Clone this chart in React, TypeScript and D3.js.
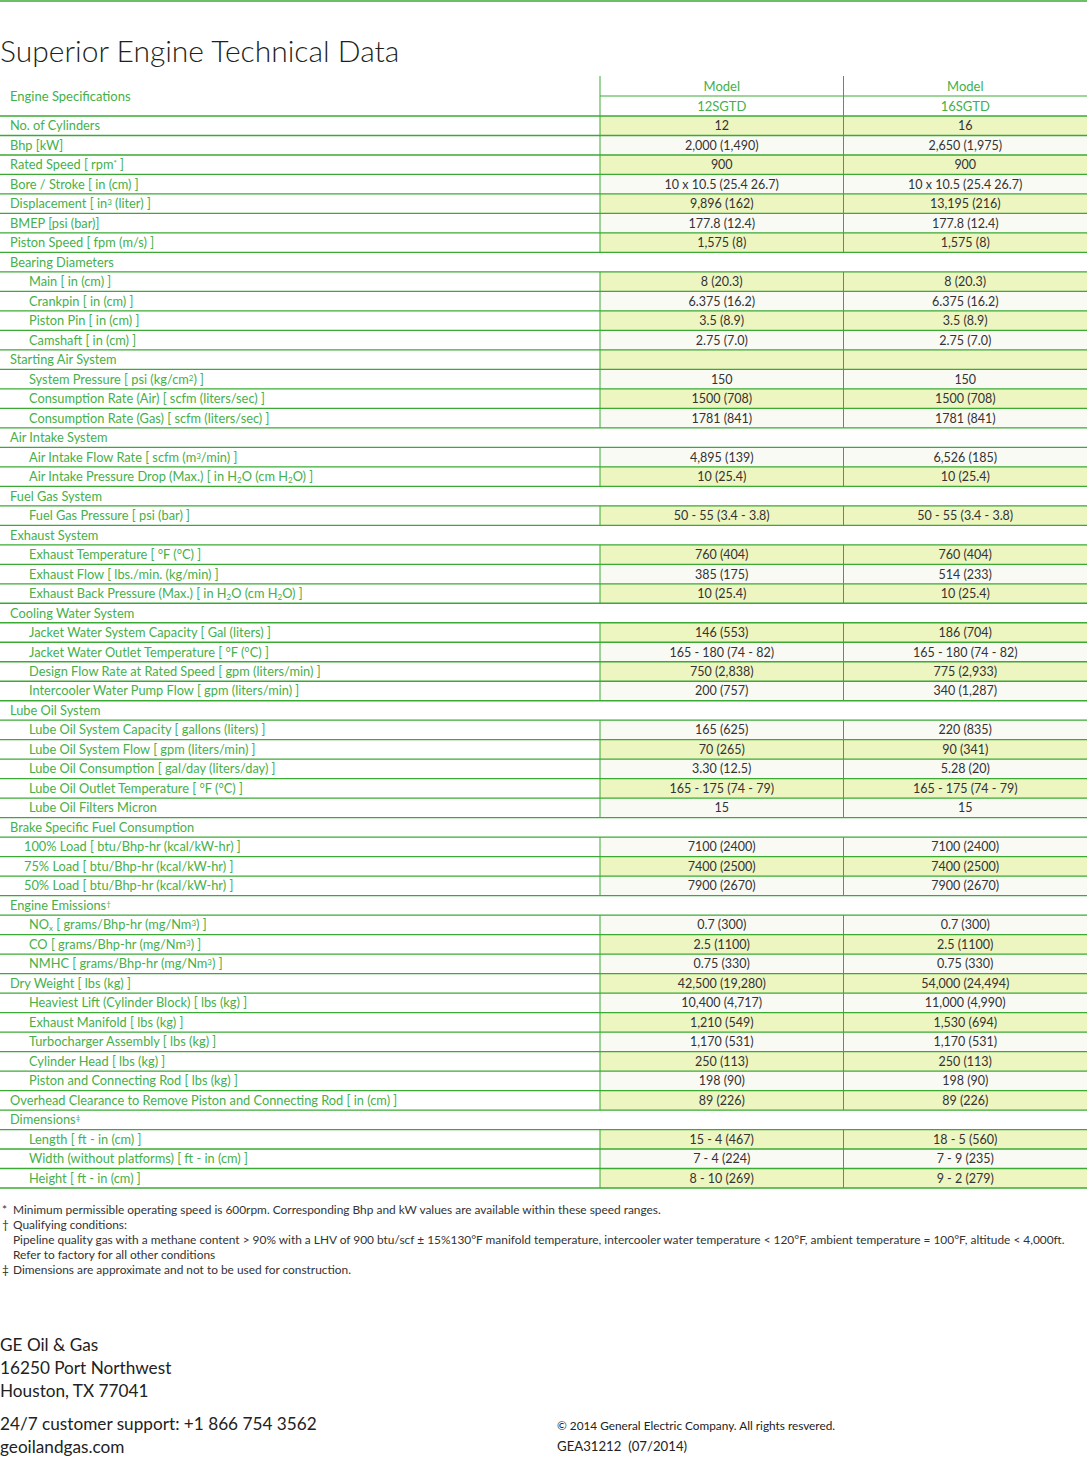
import React from "react";
import { scaleBand } from "d3";

// table content
const models = ["12SGTD", "16SGTD"];

// 0 = top level, 1 = sub item, 2 = fuel load item ; "s" marks a section row with no cells
const rowLabels = [
  "No. of Cylinders", "Bhp [kW]", "Rated Speed [ rpm^{*} ]", "Bore / Stroke [ in (cm) ]",
  "Displacement [ in^{3} (liter) ]", "BMEP [psi (bar)]", "Piston Speed [ fpm (m/s) ]",
  "Bearing Diameters", "Main [ in (cm) ]", "Crankpin [ in (cm) ]", "Piston Pin [ in (cm) ]",
  "Camshaft [ in (cm) ]", "Starting Air System", "System Pressure [ psi (kg/cm^{2}) ]",
  "Consumption Rate (Air) [ scfm (liters/sec) ]", "Consumption Rate (Gas) [ scfm (liters/sec) ]",
  "Air Intake System", "Air Intake Flow Rate [ scfm (m^{3}/min) ]",
  "Air Intake Pressure Drop (Max.) [ in H_{2}O (cm H_{2}O) ]", "Fuel Gas System",
  "Fuel Gas Pressure [ psi (bar) ]", "Exhaust System", "Exhaust Temperature [ °F (°C) ]",
  "Exhaust Flow [ lbs./min. (kg/min) ]", "Exhaust Back Pressure (Max.) [ in H_{2}O (cm H_{2}O) ]",
  "Cooling Water System", "Jacket Water System Capacity [ Gal (liters) ]",
  "Jacket Water Outlet Temperature [ °F (°C) ]", "Design Flow Rate at Rated Speed [ gpm (liters/min) ]",
  "Intercooler Water Pump Flow [ gpm (liters/min) ]", "Lube Oil System",
  "Lube Oil System Capacity [ gallons (liters) ]", "Lube Oil System Flow [ gpm (liters/min) ]",
  "Lube Oil Consumption [ gal/day (liters/day) ]", "Lube Oil Outlet Temperature [ °F (°C) ]",
  "Lube Oil Filters Micron", "Brake Specific Fuel Consumption",
  "100% Load [ btu/Bhp-hr (kcal/kW-hr) ]", "75% Load [ btu/Bhp-hr (kcal/kW-hr) ]",
  "50% Load [ btu/Bhp-hr (kcal/kW-hr) ]", "Engine Emissions^{†}",
  "NO_{x} [ grams/Bhp-hr (mg/Nm^{3}) ]", "CO [ grams/Bhp-hr (mg/Nm^{3}) ]",
  "NMHC [ grams/Bhp-hr (mg/Nm^{3}) ]", "Dry Weight [ lbs (kg) ]",
  "Heaviest Lift (Cylinder Block) [ lbs (kg) ]", "Exhaust Manifold [ lbs (kg) ]",
  "Turbocharger Assembly [ lbs (kg) ]", "Cylinder Head [ lbs (kg) ]",
  "Piston and Connecting Rod [ lbs (kg) ]",
  "Overhead Clearance to Remove Piston and Connecting Rod [ in (cm) ]", "Dimensions^{‡}",
  "Length [ ft - in (cm) ]", "Width (without platforms) [ ft - in (cm) ]", "Height [ ft - in (cm) ]",
];
const rowLevel = [
  0, 0, 0, 0, 0, 0, 0, "s", 1, 1, 1, 1, 0, 1, 1, 1, "s", 1, 1, "s", 1, "s", 1, 1, 1,
  "s", 1, 1, 1, 1, "s", 1, 1, 1, 1, 1, "s", 2, 2, 2, "s", 1, 1, 1, 0, 1, 1, 1, 1, 1, 0, "s", 1, 1, 1,
];
const values12 = [
  "12", "2,000 (1,490)", "900", "10 x 10.5 (25.4 26.7)", "9,896 (162)", "177.8 (12.4)", "1,575 (8)",
  "", "8 (20.3)", "6.375 (16.2)", "3.5 (8.9)", "2.75 (7.0)", "", "150", "1500 (708)", "1781 (841)",
  "", "4,895 (139)", "10 (25.4)", "", "50 - 55 (3.4 - 3.8)", "", "760 (404)", "385 (175)", "10 (25.4)",
  "", "146 (553)", "165 - 180 (74 - 82)", "750 (2,838)", "200 (757)", "", "165 (625)", "70 (265)",
  "3.30 (12.5)", "165 - 175 (74 - 79)", "15", "", "7100 (2400)", "7400 (2500)", "7900 (2670)", "",
  "0.7 (300)", "2.5 (1100)", "0.75 (330)", "42,500 (19,280)", "10,400 (4,717)", "1,210 (549)",
  "1,170 (531)", "250 (113)", "198 (90)", "89 (226)", "", "15 - 4 (467)", "7 - 4 (224)", "8 - 10 (269)",
];
const values16 = [
  "16", "2,650 (1,975)", "900", "10 x 10.5 (25.4 26.7)", "13,195 (216)", "177.8 (12.4)", "1,575 (8)",
  "", "8 (20.3)", "6.375 (16.2)", "3.5 (8.9)", "2.75 (7.0)", "", "150", "1500 (708)", "1781 (841)",
  "", "6,526 (185)", "10 (25.4)", "", "50 - 55 (3.4 - 3.8)", "", "760 (404)", "514 (233)", "10 (25.4)",
  "", "186 (704)", "165 - 180 (74 - 82)", "775 (2,933)", "340 (1,287)", "", "220 (835)", "90 (341)",
  "5.28 (20)", "165 - 175 (74 - 79)", "15", "", "7100 (2400)", "7400 (2500)", "7900 (2670)", "",
  "0.7 (300)", "2.5 (1100)", "0.75 (330)", "54,000 (24,494)", "11,000 (4,990)", "1,530 (694)",
  "1,170 (531)", "250 (113)", "198 (90)", "89 (226)", "", "18 - 5 (560)", "7 - 9 (235)", "9 - 2 (279)",
];
// 1 = tinted band, 0 = pale band
const rowBand = [
  1, 0, 1, 0, 1, 0, 1, 0, 1, 0, 1, 0, 1, 0, 1, 0, 0, 0, 1, 0, 1, 0, 1, 0, 1,
  0, 1, 0, 1, 0, 0, 0, 1, 0, 1, 0, 0, 0, 1, 0, 0, 0, 1, 0, 1, 0, 1, 0, 1, 0, 1, 0, 1, 0, 1,
];

const footSymbols = ["*", "†", "", "", "‡"];
const footLines = [
  "Minimum permissible operating speed is 600rpm. Corresponding Bhp and kW values are available within these speed ranges.",
  "Qualifying conditions:",
  "Pipeline quality gas with a methane content > 90% with a LHV of 900 btu/scf ± 15%130°F manifold temperature, intercooler water temperature < 120°F, ambient temperature = 100°F, altitude < 4,000ft.",
  "Refer to factory for all other conditions",
  "Dimensions are approximate and not to be used for construction.",
];
const addressLines = ["GE Oil & Gas", "16250 Port Northwest", "Houston, TX 77041"];
const contactLines = ["24/7 customer support: +1 866 754 3562", "geoilandgas.com"];

const W = 1087, H = 1457;
const green = "#3aaa35";
const labelGreen = "#45b04a";
const ink = "#333";
const font = "Lato, 'Open Sans', sans-serif";

// turn ^{..} and _{..} into small raised / lowered tspans
function rich(s: string) {
  const parts = s.split(/(\^\{[^}]*\}|_\{[^}]*\})/).filter(p => p !== "");
  return parts.map((p, i) => {
    if (p.startsWith("^{")) return <tspan key={i} baselineShift="35%" fontSize="8">{p.slice(2, -1)}</tspan>;
    if (p.startsWith("_{")) return <tspan key={i} baselineShift="-20%" fontSize="8">{p.slice(2, -1)}</tspan>;
    return <tspan key={i}>{p}</tspan>;
  });
}

export default function App() {
  const idx = rowLabels.map((_, i) => i);
  const y = scaleBand<number>().domain(idx).range([116, 1188]);
  const x = scaleBand<string>().domain(models).range([600, W]);
  const bw = x.bandwidth();
  const rh = y.bandwidth();
  const indent = (l: any) => (l === 1 ? 29 : l === 2 ? 24 : 10);
  const cols = [values12, values16];

  return (
    <div>
      <style>{`body{margin:0}`}</style>
      <svg width={W} height={H} style={{ display: "block" }} fontFamily={font}>
        <line x1={0} x2={W} y1={1} y2={1} stroke={green} strokeWidth={1.5} />
        <text x={0} y={62} fontSize={30} fontWeight={300} fill="#231f20">Superior Engine Technical Data</text>

        {/* header */}
        <text x={10} y={100.5} fontSize={13} fill={labelGreen}>Engine Specifications</text>
        {models.map(m => (
          <g key={m}>
            <line x1={x(m)!} x2={x(m)!} y1={76} y2={116} stroke={green} />
            <text x={x(m)! + bw / 2} y={90.5} textAnchor="middle" fontSize={13} fill={labelGreen}>Model</text>
            <text x={x(m)! + bw / 2} y={110.5} textAnchor="middle" fontSize={13} fill={labelGreen}>{m}</text>
          </g>
        ))}
        <line x1={600} x2={W} y1={96} y2={96} stroke={green} />

        {/* body */}
        {idx.map(i => {
          const top = y(i)!;
          const isSection = rowLevel[i] === "s";
          return (
            <g key={i}>
              {!isSection && models.map((m, c) => (
                <g key={m}>
                  <rect x={x(m)!} y={top} width={bw} height={rh} fill={rowBand[i] ? "#edf5c1" : "#f9faf3"} />
                  <line x1={x(m)!} x2={x(m)!} y1={top} y2={top + rh} stroke={green} />
                  <text x={x(m)! + bw / 2} y={top + rh / 2 + 4.5} textAnchor="middle" fontSize={12.5} fill={ink}>
                    {cols[c][i]}
                  </text>
                </g>
              ))}
              <text x={indent(rowLevel[i])} y={top + rh / 2 + 4.5} fontSize={12.8} fill={labelGreen}>
                {rich(rowLabels[i])}
              </text>
            </g>
          );
        })}
        {[...idx, idx.length].map(i => {
          const yy = i < idx.length ? y(i)! : 1188;
          return <line key={"h" + i} x1={0} x2={W} y1={yy} y2={yy} stroke={green} strokeWidth={1.3} />;
        })}

        {/* footnotes */}
        {footLines.map((t, i) => (
          <g key={"f" + i} fontSize={11.9} fill={ink}>
            <text x={2} y={1214 + i * 15}>{footSymbols[i]}</text>
            <text x={13} y={1214 + i * 15}>{t}</text>
          </g>
        ))}

        {/* address block */}
        {addressLines.map((t, i) => (
          <text key={"a" + i} x={0} y={1351 + i * 23} fontSize={17.2} fill="#222">{t}</text>
        ))}
        {contactLines.map((t, i) => (
          <text key={"c" + i} x={0} y={1430 + i * 23} fontSize={17.2} fill="#222">{t}</text>
        ))}
        <text x={557} y={1430} fontSize={11.8} fill="#222">© 2014 General Electric Company. All rights resvered.</text>
        <text x={557} y={1451} fontSize={13.2} fill="#222" style={{ whiteSpace: "pre" }}>GEA31212  (07/2014)</text>
      </svg>
    </div>
  );
}
